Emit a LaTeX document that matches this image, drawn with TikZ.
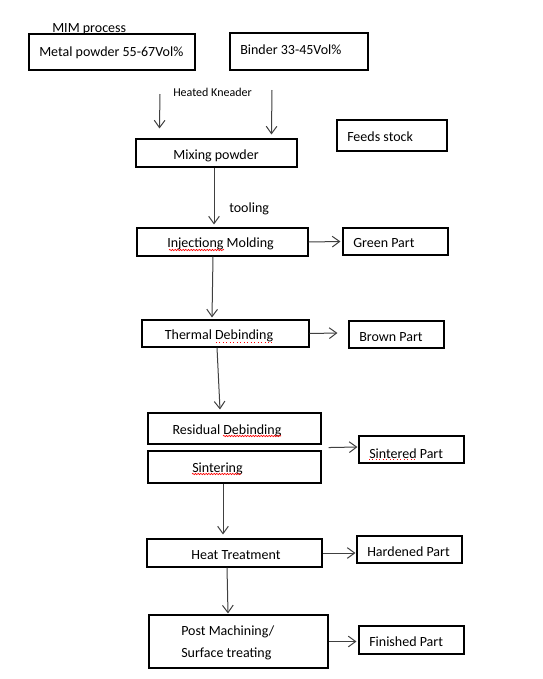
\documentclass[tikz,border=0pt]{standalone}
\usepackage{fontspec}
\setmainfont{Carlito}
\usetikzlibrary{arrows.meta,calc,decorations.pathmorphing}
\begin{document}
\begin{tikzpicture}[x=0.75pt,y=-0.75pt,
 box/.style={draw=black,line width=0.8pt,inner sep=0pt,rectangle},
 bx/.style n args={2}{box,minimum width=#1*0.75pt,minimum height=#2*0.75pt},
 txt/.style={inner sep=0pt,anchor=west,yshift=-1.1pt,font=\fontsize{10.5}{13}\selectfont,text=black},
 ctxt/.style={inner sep=0pt,anchor=center,yshift=-1.1pt,font=\fontsize{10.5}{13}\selectfont,text=black},
 arr/.style={draw=black!75,line width=0.75pt,-{Straight Barb[length=5.5pt,width=8pt]}},
 wavy/.style={draw=red,line width=0.5pt,decorate,decoration={snake,amplitude=0.5pt,segment length=2pt}},
 dots/.style={draw=red,line width=0.6pt,dotted}]
\useasboundingbox (0,0) rectangle (543,679);
\fill[white] (0,0) rectangle (543,679);
% boxes
\node[bx={166}{36}] (mp) at (112,52) {};
\node[bx={138}{37}] (bd) at (299,51.5) {};
\node[bx={110}{31}] (fs) at (392,135.5) {};
\node[bx={161}{28}] (mix) at (216.5,153) {};
\node[bx={171}{28}] (inj) at (222.5,242) {};
\node[bx={105}{27}] (gp) at (395.5,241.5) {};
\node[bx={167}{27}] (th) at (225.5,333.5) {};
\node[bx={95}{27}] (bp) at (396.5,334.5) {};
\node[bx={173}{31}] (rd) at (234.5,428.5) {};
\node[bx={173}{32}] (si) at (234.5,467) {};
\node[bx={105}{27}] (sp) at (411.5,449.5) {};
\node[bx={175}{28}] (ht) at (234.5,553) {};
\node[bx={105}{27}] (hp) at (409.5,549.5) {};
\node[bx={179}{53}] (pm) at (238.5,641.5) {};
\node[bx={105}{28}] (fp) at (411.5,640) {};
% texts
\node[txt] (tmim) at (52,28) {MIM process};
\node[txt] (tmp) at (39,51) {Metal powder 55-67Vol\%};
\node[txt] (tbd) at (240,48) {Binder 33-45Vol\%};
\node[txt,font=\fontsize{9}{11}\selectfont] (thk) at (173,91) {Heated Kneader};
\node[txt] (tfs) at (347,135) {Feeds stock};
\node[ctxt] (tmix) at (216,154) {Mixing powder};
\node[txt] (ttool) at (229,207) {tooling};
\node[ctxt] (tinj) at (220.5,242) {Injectiong Molding};
\node[txt] (tgp) at (353,242) {Green Part};
\node[ctxt] (tth) at (219,334) {Thermal Debinding};
\node[txt] (tbp) at (359,336) {Brown Part};
\node[ctxt] (trd) at (227,429) {Residual Debinding};
\node[txt] (tsi) at (192,467) {Sintering};
\node[txt] (tsp) at (369,452) {Sintered Part};
\node[ctxt] (tht) at (236,554) {Heat Treatment};
\node[txt] (thp) at (367,550) {Hardened Part};
\node[txt] (tpm1) at (181,630) {Post Machining/};
\node[txt] (tpm2) at (181,652) {Surface treating};
\node[txt] (tfp) at (369,640) {Finished Part};
% spell-check underlines
\draw[wavy] (169,250) -- (224,250);
\draw[dots] (216,342) -- (272,342);
\draw[wavy] (223,436) -- (281,436);
\draw[wavy] (192,474) -- (241,474);
\draw[dots] (369,459) -- (416,459);
% connectors
\coordinate (k1) at (160,94);
\coordinate (k2) at (272,90);
\coordinate (cs) at ($(rd.south east)+(7,3)$);
\draw[arr] (k1) -- ($(mix.north west)+(24,-10)$);
\draw[arr] (k2) -- ($(mix.north west)+(136,-4)$);
\draw[arr] ($(mix.south)+(-2.5,0)$) -- ($(inj.north)+(-8.5,-3)$);
\draw[arr] ($(inj.south)+(-9.5,0)$) -- ($(th.north)+(-13.5,-2)$);
\draw[arr] (inj.east) -- ($(gp.west)+(-2,0)$);
\draw[arr] (th.east) -- ($(bp.west)+(-11,-1.5)$);
\draw[arr] ($(th.south)+(-8.5,0)$) -- ($(rd.north)+(-14.5,-3)$);
\draw[arr] (cs) -- ($(sp.west)+(-1,-2.5)$);
\draw[arr] ($(si.south)+(-11.5,0)$) -- ($(ht.north)+(-11.5,-4)$);
\draw[arr] (ht.east) -- ($(hp.west)+(-1,3.5)$);
\draw[arr] ($(ht.south)+(-7.5,0)$) -- ($(pm.north)+(-10.5,-1)$);
\draw[arr] (pm.east) -- ($(fp.west)+(-2,1.5)$);
\end{tikzpicture}
\end{document}
